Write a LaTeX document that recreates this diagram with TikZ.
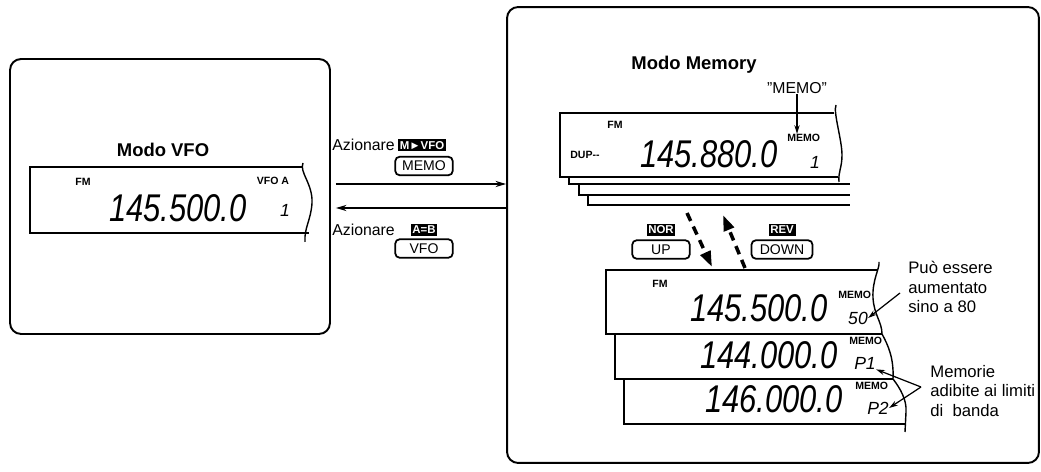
\documentclass[tikz,border=0pt]{standalone}
\usepackage{fontspec}
\setmainfont{Liberation Sans}
\usetikzlibrary{arrows.meta,calc}

\tikzset{
  panel/.style={draw,line width=1.1pt,rounded corners=0.22cm,inner sep=0pt},
  lcd/.style={line width=0.8pt},
  ttl/.style={font=\fontsize{10.5}{12}\selectfont\bfseries},
  lbl/.style={font=\fontsize{9}{11}\selectfont,inner sep=0pt},
  note/.style={font=\fontsize{9.5}{11}\selectfont,align=left,inner sep=0pt},
  ind/.style={font=\fontsize{6}{6}\selectfont\bfseries,inner sep=0pt},
  seg/.style={font=\fontsize{22}{22}\selectfont\itshape,xscale=0.8,inner sep=0pt},
  segch/.style={font=\fontsize{10}{10}\selectfont\itshape,inner sep=0pt},
  tag/.style={fill=black,text=white,font=\fontsize{6.5}{7}\selectfont\bfseries,inner sep=1pt,minimum height=0.24cm},
  key/.style={draw,line width=1pt,rounded corners=2.5pt,font=\fontsize{8}{9}\selectfont,minimum width=1.15cm,minimum height=0.37cm,inner sep=1pt},
  flow/.style={line width=0.8pt,-{Stealth[length=6pt,width=3.5pt]}},
  pointer/.style={line width=0.7pt,-{Stealth[length=5pt,width=3pt]}},
  jump/.style={line width=2pt,dash pattern=on 5pt off 3.5pt,-{Triangle[length=9pt,width=6pt]}}
}

\begin{document}
\begin{tikzpicture}[x=0.02cm,y=-0.02cm]
  \useasboundingbox (0,0) rectangle (1041,472);

  % Pannello 1: modo VFO
  \node[panel,minimum width=6.4cm,minimum height=5.5cm] (vfopanel) at (170,196.5) {};
  \node[ttl] (vfotitle) at (163,150) {Modo VFO};
  \draw[lcd] (303,167) -- (30,167) -- (30,233) -- (309,233);
  \draw[lcd] (303,163) .. controls (299,172) and (313,184) .. (312,203) .. controls (311,220) and (304,228) .. (305,242);
  \node[ind] (vfofm) at (83,182) {FM};
  \node[ind] (vfoa) at (273,181) {VFO A};
  \node[seg,anchor=east] (vfofreq) at (247,208) {145.500.0};
  \node[segch] (vfoch) at (285,210) {1};

  % Pannello 2: modo Memory
  \node[panel,minimum width=10.64cm,minimum height=9.12cm] (mempanel) at (773,235) {};
  \node[ttl] (memtitle) at (694,65) {Modo Memory};
  \node[lbl] (memolbl) at (797,88) {\symbol{34}MEMO\symbol{34}};
  \draw[lcd] (834,113) -- (560,113) -- (560,177) -- (838,177);
  \draw[lcd] (836,105) .. controls (833,112) and (842,140) .. (842,155) .. controls (842,168) and (838,172) .. (839,182);
  \draw[lcd] (569,177) |- (850,184);
  \draw[lcd] (579,184) |- (850,195);
  \draw[lcd] (588,195) |- (850,205);
  \node[ind] (memfm) at (615,125) {FM};
  \node[ind] (memdup) at (585,155) {DUP-{}-};
  \node[seg,anchor=east] (memfreq) at (778,154) {145.880.0};
  \node[ind,anchor=west] (memind) at (787,138) {MEMO};
  \node[segch] (memch) at (815,162) {1};
  \draw[pointer] (memolbl.south) -- (memolbl.south |- memind.north);

  % comandi tra i due modi
  \node[lbl,anchor=west] (azmv) at (332,145) {Azionare};
  \node[tag] (tagmv) at (422,145.5) {M►VFO};
  \node[key] (keymemo) at (424,166) {MEMO};
  \node[lbl,anchor=west] (azab) at (332,230) {Azionare};
  \node[tag] (tagab) at (424,230) {A=B};
  \node[key] (keyvfo) at (424,248.5) {VFO};
  \coordinate (goout) at ([yshift=0.25cm]vfopanel.east);
  \coordinate (goin) at ([yshift=-0.23cm]vfopanel.east);
  \draw[flow] ([xshift=0.1cm]goout) -- (goout -| mempanel.west);
  \draw[flow] (goin -| mempanel.west) -- ([xshift=0.1cm]goin);

  % scorrimento canali
  \node[tag] (tagnor) at (661,230) {NOR};
  \node[key] (keyup) at (661,249.5) {UP};
  \node[tag] (tagrev) at (782,230) {REV};
  \node[key,minimum width=1.22cm] (keydown) at (782,249.5) {DOWN};
  \coordinate (upa) at (687,213);
  \coordinate (upb) at (712,267);
  \coordinate (dna) at (745,268);
  \coordinate (dnb) at (723,215);
  \draw[jump] (upa) -- (upb);
  \draw[jump] (dna) -- (dnb);

  % canale 50
  \draw[lcd] (878,270) -- (606,270) -- (606,334) -- (882,334);
  \draw[lcd] (879,262) .. controls (880,268) and (872,280) .. (873,298) .. controls (874,315) and (882,322) .. (882,334);
  \node[ind] (fm50) at (660,284) {FM};
  \node[seg,anchor=east] (freq50) at (828,308) {145.500.0};
  \node[ind,anchor=west] (ind50) at (838,295) {MEMO};
  \node[segch] (code50) at (858,318) {50};

  % canali P1 e P2
  \draw[lcd] (615,334) -- (615,379) -- (893,379);
  \draw[lcd] (882,334) .. controls (888,345) and (894,358) .. (893,379);
  \node[seg,anchor=east] (freqP1) at (838,355) {144.000.0};
  \node[ind,anchor=west] (indP1) at (849,341) {MEMO};
  \node[segch] (codeP1) at (865,363) {P1};
  \draw[lcd] (624,379) -- (624,424) -- (906,424);
  \draw[lcd] (893,379) .. controls (900,388) and (907,400) .. (906,412) -- (905,432);
  \node[seg,anchor=east] (freqP2) at (843,399) {146.000.0};
  \node[ind,anchor=west] (indP2) at (855,386) {MEMO};
  \node[segch] (codeP2) at (878,408) {P2};

  % note
  \node[note,anchor=west] (noteup) at (908,287) {Può essere\\aumentato\\sino a 80};
  \node[note,anchor=west] (noteband) at (930,391) {Memorie\\adibite ai limiti\\di~~banda};
  \coordinate (tip50) at (900,293);
  \draw[pointer] (tip50) -- (code50.east);
  \coordinate (fork) at (921,387);
  \draw[pointer] (fork) -- (codeP1.south east);
  \draw[pointer] (fork) -- (codeP2.east);
\end{tikzpicture}
\end{document}
